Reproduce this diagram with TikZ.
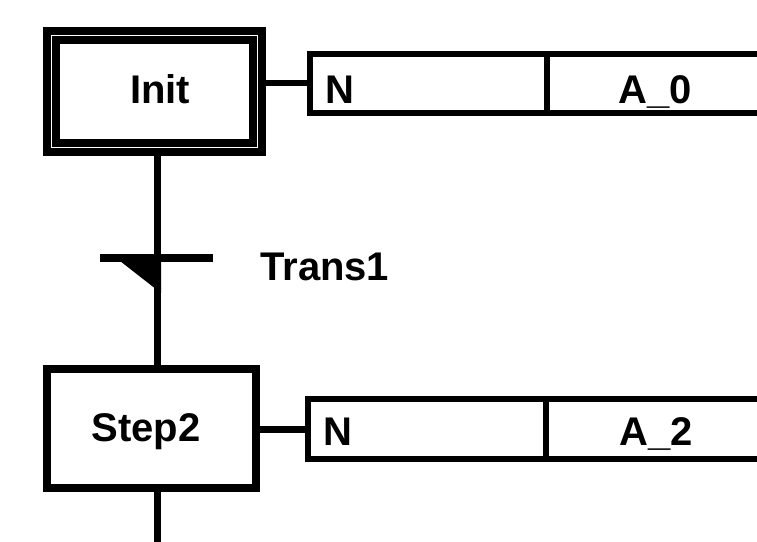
\documentclass[tikz,border=0pt]{standalone}
\usepackage{fontspec}
\setmainfont{Liberation Sans}
\begin{document}
\begin{tikzpicture}[x=1pt,y=-1pt,
  lbl/.style={inner sep=0pt,font=\fontsize{40}{48}\selectfont\bfseries},
  cell/.style={draw,line width=6pt,inner sep=0pt,minimum height=59pt},
  wire/.style={line width=7pt}]
\useasboundingbox (0,0) rectangle (757,541);
% initial step (double frame)
\node[draw,line width=7.5pt,double=white,double distance=1.5pt,inner sep=0pt,
      minimum width=206pt,minimum height=112pt] (init) at (154.5,91.5) {};
\node[lbl,anchor=base] (initlbl) at (160,103) {Init};
% step 2
\node[draw,line width=8pt,inner sep=0pt,minimum width=209pt,minimum height=119pt] (step2) at (151.5,428) {};
\node[lbl,anchor=base] (step2lbl) at (146,441) {Step2};
% action block 1
\node[cell,minimum width=236.5pt] (act1n) at (428.25,83) {};
\node[cell,minimum width=220.5pt] (act1a) at (656.75,83) {};
\node[lbl,anchor=base west] (n1) at (325,103) {N};
\node[lbl,anchor=base] (a0) at (655,103) {A\_0};
% action block 2
\node[cell,minimum width=238.5pt,minimum height=60pt] (act2n) at (426.75,429) {};
\node[cell,minimum width=221pt,minimum height=60pt] (act2a) at (656.5,429) {};
\node[lbl,anchor=base west] (n2) at (323,445) {N};
\node[lbl,anchor=base] (a2) at (656,445) {A\_2};
% axis and transition
\coordinate (axis) at (157.5,0);
\coordinate (tl) at (100,257.5);
\coordinate (tr) at (213,257.5);
\coordinate (bottom) at (157.5,545);
\draw[wire] (init.south -| axis) -- (step2.north -| axis);
\draw[line width=8pt] (tl) -- (tr);
\fill (120,261) -- (161,261) -- (161,293) -- cycle;
\node[lbl,anchor=base west] (trans) at (260,280) {Trans1};
\draw[wire] (step2.south -| axis) -- (bottom);
% links to action blocks
\draw[line width=6pt] (act1n.west -| init.east) -- (act1n.west);
\draw[line width=7pt] (act2n.west -| step2.east) -- (act2n.west);
\end{tikzpicture}
\end{document}
